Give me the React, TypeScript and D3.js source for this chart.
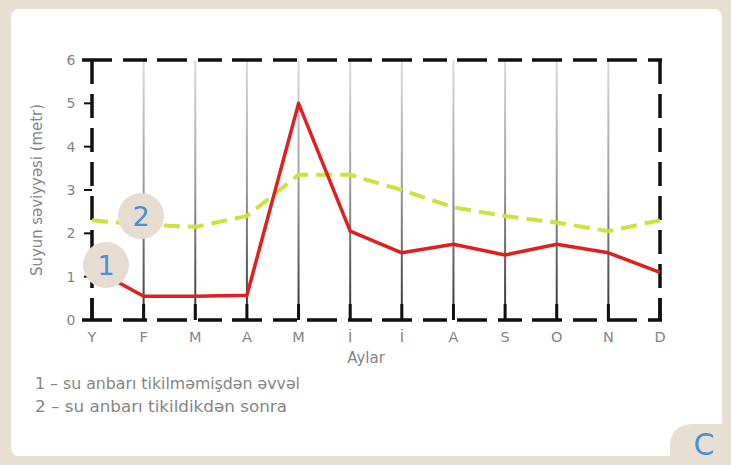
import React from "react";
import * as d3 from "d3";

const months = ["Y", "F", "M", "A", "M", "İ", "İ", "A", "S", "O", "N", "D"];
const before = [1.2, 0.55, 0.55, 0.57, 5.0, 2.05, 1.55, 1.75, 1.5, 1.75, 1.55, 1.1];
const after = [2.3, 2.2, 2.15, 2.4, 3.35, 3.35, 3.0, 2.6, 2.4, 2.25, 2.05, 2.3];
const yTicks = [0, 1, 2, 3, 4, 5, 6];
const yTitle = "Suyun səviyyəsi (metr)";
const xTitle = "Aylar";
const legend = ["1 – su anbarı tikilməmişdən əvvəl", "2 – su anbarı tikildikdən sonra"];

export default function App() {
  const W = 731, H = 465;
  const x0 = 92, x1 = 660, yTop = 60, yBot = 320;
  const x = d3.scalePoint<number>().domain(d3.range(months.length)).range([x0, x1]);
  const y = d3.scaleLinear().domain([0, 6]).range([yBot, yTop]);
  const line = d3.line<number>().x((_, i) => x(i)!).y((d) => y(d));
  const font = "'DejaVu Sans', Verdana, sans-serif";
  const gray = "#858585";
  const badge = "#e6ddd0";
  const blue = "#4a8fd8";
  return (
    <svg width={W} height={H} style={{ position: "absolute", left: 0, top: 0 }}>
      <defs>
        <linearGradient id="vg" x1="0" y1="0" x2="0" y2="1">
          <stop offset="0" stopColor="#dcdcdc" />
          <stop offset="0.5" stopColor="#999" />
          <stop offset="1" stopColor="#333" />
        </linearGradient>
      </defs>
      <rect x={0} y={0} width={W} height={H} fill="#e8dfd3" />
      <rect x={11} y={9} width={711} height={447} rx={8} fill="#ffffff" />
      {months.map((_, i) =>
        i > 0 && i < months.length - 1 ? (
          <rect key={i} x={x(i)! - 1} y={yTop} width={2} height={yBot - yTop} fill="url(#vg)" />
        ) : null
      )}
      <g stroke="#111" strokeWidth={3.5} fill="none">
        <line x1={82} y1={yTop} x2={x1 + 2} y2={yTop} strokeDasharray="30 11 24 10" />
        <line x1={82} y1={yBot} x2={x1 + 2} y2={yBot} strokeDasharray="30 11 24 10" />
        <line x1={x0} y1={yTop} x2={x0} y2={yBot} strokeDasharray="24 10" />
        <line x1={x1} y1={yTop} x2={x1} y2={yBot} strokeDasharray="24 10" />
        <line x1={x0} y1={yBot - 22} x2={x0} y2={yBot} />
        <line x1={x1} y1={yBot - 22} x2={x1} y2={yBot} />
        {yTicks.map((t) => (
          <line key={t} x1={84} y1={y(t)} x2={x0} y2={y(t)} strokeWidth={2} />
        ))}
      </g>
      {months.map((_, i) =>
        i > 0 && i < months.length - 1 ? (
          <line key={"b" + i} x1={x(i)!} y1={yBot - 16} x2={x(i)!} y2={yBot} stroke="#111" strokeWidth={3} />
        ) : null
      )}
      {yTicks.map((t) => (
        <text key={t} x={71} y={y(t) + 5} fontSize={14} fill={gray} fontFamily={font} textAnchor="middle">
          {t}
        </text>
      ))}
      <text
        transform={`translate(42,${(yTop + yBot) / 2}) rotate(-90)`}
        fontSize={15}
        fill={gray}
        fontFamily={font}
        textAnchor="middle"
        textLength={172}
        lengthAdjust="spacingAndGlyphs"
      >
        {yTitle}
      </text>
      {months.map((m, i) => (
        <text key={i} x={x(i)!} y={yBot + 22} fontSize={14.5} fill={gray} fontFamily={font} textAnchor="middle">
          {m}
        </text>
      ))}
      <text x={366} y={363} fontSize={15} fill={gray} fontFamily={font} textAnchor="middle">
        {xTitle}
      </text>
      {legend.map((l, i) => (
        <text key={i} x={35} y={389 + i * 23} fontSize={15} fill={gray} fontFamily={font}
          textLength={i === 0 ? 265 : 252} lengthAdjust="spacingAndGlyphs">
          {l}
        </text>
      ))}
      <path d={line(after)!} fill="none" stroke="#cde23c" strokeWidth={4} strokeDasharray="16 8" />
      <path d={line(before)!} fill="none" stroke="#e0201e" strokeWidth={3.5} strokeLinejoin="round" />
      <circle cx={141} cy={216} r={23} fill={badge} />
      <text x={141} y={226} fontSize={27} fill={blue} fontFamily={font} textAnchor="middle">2</text>
      <circle cx={106} cy={265} r={23} fill={badge} />
      <text x={106} y={275} fontSize={27} fill={blue} fontFamily={font} textAnchor="middle">1</text>
      <path d="M670,465 L670,447 Q670,424 694,424 L722,424 L722,465 Z" fill="#e8dfd3" />
      <text x={704} y={455} fontSize={30} fill={blue} fontFamily={font} textAnchor="middle">C</text>
    </svg>
  );
}
